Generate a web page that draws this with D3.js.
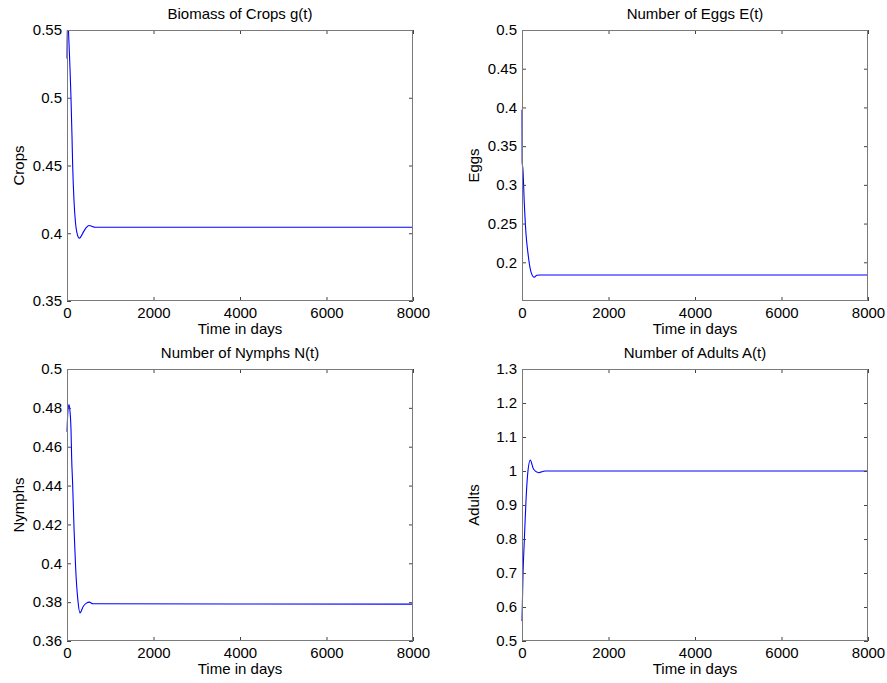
<!DOCTYPE html>
<html>
<head>
<meta charset="utf-8">
<script src="https://cdn.jsdelivr.net/npm/d3@7"></script>
<style>
    html, body { margin: 0; padding: 0; background: #fff; }
    svg { display: block; font-family: "Liberation Sans", Arial, sans-serif; }
    .tick text { font-size: 15px; fill: #000; }
    .title, .axis-label { font-size: 15px; fill: #000; }
</style>
</head>
<body>
<svg id="chart" width="887" height="683"></svg>
<script>
'use strict';

// x axis (days), shared by all four panels
const timeTicks = [0, 2000, 4000, 6000, 8000];

// Biomass of crops g(t)
const cropsT = [0, 8, 25, 40, 92, 116, 131, 162, 193, 240, 285, 330, 380, 440, 516, 580, 650, 8000];
const cropsV = [0.529, 0.556, 0.556, 0.545, 0.500, 0.471, 0.450, 0.424, 0.409, 0.399, 0.3963, 0.398, 0.401, 0.404, 0.4057, 0.4050, 0.4044, 0.4044];
const cropsTicks = [0.35, 0.4, 0.45, 0.5, 0.55];

// Number of eggs E(t)
const eggsT = [0, 3, 22, 53, 91, 137, 214, 283, 345, 420, 8000];
const eggsV = [0.397, 0.33, 0.3195, 0.2764, 0.2379, 0.2121, 0.1863, 0.1807, 0.1833, 0.1836, 0.1836];
const eggsTicks = [0.2, 0.25, 0.3, 0.35, 0.4, 0.45, 0.5];

// Number of nymphs N(t)
const nymphsT = [0, 20, 46, 70, 92, 108, 131, 162, 200, 254, 300, 378, 450, 516, 600, 8000];
const nymphsV = [0.4677, 0.478, 0.4817, 0.478, 0.4694, 0.454, 0.4404, 0.4181, 0.3976, 0.3805, 0.3745, 0.3779, 0.3795, 0.3800, 0.3792, 0.3790];
const nymphsTicks = [0.36, 0.38, 0.4, 0.42, 0.44, 0.46, 0.48, 0.5];

// Number of adults A(t)
const adultsT = [0, 23, 53, 92, 130, 191, 268, 383, 537, 8000];
const adultsV = [0.559, 0.696, 0.794, 0.912, 0.990, 1.032, 1.005, 0.995, 1.0, 1.0];
const adultsTicks = [0.5, 0.6, 0.7, 0.8, 0.9, 1, 1.1, 1.2, 1.3];

(function() {
    const d3 = window.d3;
    const svg = d3.select('#chart');

    const cols = [[67, 413], [522, 868]];
    const rows = [[30, 301], [369, 641]];

    const panels = [
        {title: 'Biomass of Crops g(t)', label: 'Crops', t: cropsT, v: cropsV, ticks: cropsTicks, col: 0, row: 0},
        {title: 'Number of Eggs E(t)', label: 'Eggs', t: eggsT, v: eggsV, ticks: eggsTicks, col: 1, row: 0, min: 0.15},
        {title: 'Number of Nymphs N(t)', label: 'Nymphs', t: nymphsT, v: nymphsV, ticks: nymphsTicks, col: 0, row: 1},
        {title: 'Number of Adults A(t)', label: 'Adults', t: adultsT, v: adultsV, ticks: adultsTicks, col: 1, row: 1}
    ];

    const fmt = d => String(+d.toFixed(2));

    panels.forEach((p, idx) => {
        const [x0, x1] = cols[p.col];
        const [y0, y1] = rows[p.row];
        const w = x1 - x0;
        const h = y1 - y0;

        const lo = p.min !== undefined ? p.min : p.ticks[0];
        const hi = p.ticks[p.ticks.length - 1];

        const scaleX = d3.scaleLinear()
            .domain([timeTicks[0], timeTicks[timeTicks.length - 1]])
            .range([0, w]);

        const scaleY = d3.scaleLinear()
            .domain([lo, hi])
            .range([h, 0]);

        const g = svg.append('g')
            .attr('transform', 'translate(' + x0 + ',' + y0 + ')');

        // clip a bit wider than the box so the curve on the left edge stays visible
        g.append('clipPath')
            .attr('id', 'clip' + idx)
            .append('rect')
            .attr('x', -1.5)
            .attr('y', 0)
            .attr('width', w + 1.5)
            .attr('height', h);

        // curve
        const line = d3.line()
            .x((d, i) => scaleX(p.t[i]))
            .y(d => scaleY(d))
            .curve(d3.curveMonotoneX);

        g.append('path')
            .datum(p.v)
            .attr('clip-path', 'url(#clip' + idx + ')')
            .attr('fill', 'none')
            .attr('stroke', '#0000ff')
            .attr('stroke-width', 1.1)
            .attr('d', line);

        // Axes (ticks pointing inward, MATLAB box)
        const bottom = g.append('g')
            .attr('transform', 'translate(0,' + h + ')')
            .call(d3.axisBottom(scaleX)
                .tickValues(timeTicks)
                .tickFormat(d3.format('d'))
                .tickSizeInner(-4)
                .tickSizeOuter(0)
                .tickPadding(6));

        const top = g.append('g')
            .call(d3.axisTop(scaleX)
                .tickValues(timeTicks)
                .tickFormat('')
                .tickSizeInner(-4)
                .tickSizeOuter(0));

        const left = g.append('g')
            .call(d3.axisLeft(scaleY)
                .tickValues(p.ticks)
                .tickFormat(fmt)
                .tickSizeInner(-4)
                .tickSizeOuter(0)
                .tickPadding(5));

        const right = g.append('g')
            .attr('transform', 'translate(' + w + ',0)')
            .call(d3.axisRight(scaleY)
                .tickValues(p.ticks)
                .tickFormat('')
                .tickSizeInner(-4)
                .tickSizeOuter(0));

        [bottom, top, left, right].forEach(a => {
            a.select('.domain').remove();
            a.selectAll('line').attr('stroke', '#444');
            a.selectAll('text').attr('font-family', null).attr('font-size', null);
        });

        g.append('rect')
            .attr('x', 0.5)
            .attr('y', 0.5)
            .attr('width', w - 1)
            .attr('height', h - 1)
            .attr('fill', 'none')
            .attr('stroke', '#7a7a7a');

        // Texts
        g.append('text')
            .attr('class', 'title')
            .attr('x', w / 2)
            .attr('y', -11)
            .attr('text-anchor', 'middle')
            .text(p.title);

        g.append('text')
            .attr('class', 'axis-label')
            .attr('x', w / 2)
            .attr('y', h + 33)
            .attr('text-anchor', 'middle')
            .text('Time in days');

        g.append('text')
            .attr('class', 'axis-label')
            .attr('transform', 'translate(-43,' + (h / 2) + ') rotate(-90)')
            .attr('text-anchor', 'middle')
            .text(p.label);
    });
}());
</script>
</body>
</html>
